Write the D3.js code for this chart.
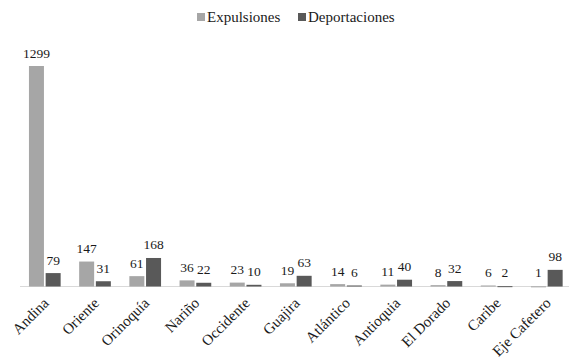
<!DOCTYPE html>
<html><head><meta charset="utf-8">
<script src="https://cdn.jsdelivr.net/npm/d3@7"></script>
<style>body{margin:0;background:#fff}svg{display:block}</style>
</head><body>
<svg id="c" width="569" height="357"></svg>
<script>
const categories = ["Andina","Oriente","Orinoquía","Nariño","Occidente","Guajira","Atlántico","Antioquia","El Dorado","Caribe","Eje Cafetero"];
const expulsiones = [1299,147,61,36,23,19,14,11,8,6,1];
const deportaciones = [79,31,168,22,10,63,6,40,32,2,98];
const seriesNames = ["Expulsiones","Deportaciones"];
const colors = ["#a6a6a6","#595959"];

const FONT = '"Liberation Serif"';
const svg = d3.select("#c");
const x = d3.scaleBand().domain(categories).range([19.7, 571.9]).paddingInner(0).paddingOuter(0);
const y = d3.scaleLinear().domain([0, 1299]).range([286.5, 66]);
const barW = 15, gap = 1.7;

svg.append("line").attr("x1", 20).attr("x2", 569).attr("y1", 286.5).attr("y2", 286.5)
  .attr("stroke", "#d9d9d9").attr("stroke-width", 1.2);

const data = [expulsiones, deportaciones];
data.forEach((vals, si) => {
  const g = svg.append("g");
  categories.forEach((c, i) => {
    const cx = x(c) + x.bandwidth() / 2;
    const bx = si === 0 ? cx - gap / 2 - barW : cx + gap / 2;
    g.append("rect").attr("x", bx).attr("width", barW)
      .attr("y", y(vals[i])).attr("height", Math.max(y(0) - y(vals[i]), 1))
      .attr("fill", colors[si]);
    g.append("text").attr("x", bx + barW / 2).attr("y", Math.min(y(vals[i]), y(0) - 1) - 8.5)
      .attr("text-anchor", "middle").style("font-family", FONT).style("font-size", "13.5px")
      .attr("fill", "#1a1a1a").text(vals[i]);
  });
});

categories.forEach(c => {
  const cx = x(c) + x.bandwidth() / 2;
  svg.append("text").attr("transform", `translate(${cx + 5},${304}) rotate(-45)`)
    .attr("text-anchor", "end").style("font-family", FONT).style("font-size", "15px")
    .attr("fill", "#1a1a1a").text(c);
});

const legX = [197, 298];
seriesNames.forEach((s, i) => {
  svg.append("rect").attr("x", legX[i]).attr("y", 13).attr("width", 8).attr("height", 8).attr("fill", colors[i]);
  svg.append("text").attr("x", legX[i] + 10).attr("y", 22).style("font-family", FONT).style("font-size", "15px")
    .attr("fill", "#1a1a1a").text(s);
});
</script>
</body></html>
